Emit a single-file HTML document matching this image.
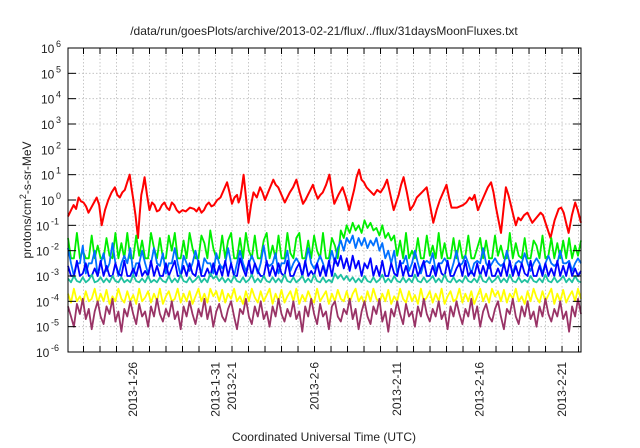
<!DOCTYPE html>
<html><head><meta charset="utf-8"><style>
html,body{margin:0;padding:0;background:#fff}
svg{display:block;font-family:"Liberation Sans",sans-serif}
</style></head><body>
<svg id="chart" width="640" height="448">
<text x="324" y="35" font-size="12" text-anchor="middle" fill="#222">/data/run/goesPlots/archive/2013-02-21/flux/../flux/31daysMoonFluxes.txt</text>
<text transform="translate(31,200) rotate(-90)" font-size="12" text-anchor="middle" fill="#222">protons/cm<tspan dy="-5" font-size="9">2</tspan><tspan dy="5">-s-sr-MeV</tspan></text>
<text x="324" y="441" font-size="12" text-anchor="middle" fill="#222">Coordinated Universal Time (UTC)</text>
<g id="grid"></g><g id="series"></g><g id="axes"></g>
</svg>
<script>
const yDecades=[-6,-5,-4,-3,-2,-1,0,1,2,3,4,5,6];
const xLabelDays=[4,9,10,15,20,25,30];
const xLabelText=["2013-1-26","2013-1-31","2013-2-1","2013-2-6","2013-2-11","2013-2-16","2013-2-21"];
const redDays=[0.06,0.25,0.4,0.55,0.7,0.85,1.0,1.15,1.3,1.55,1.8,1.95,2.1,2.3,2.5,2.7,2.9,3.05,3.2,3.35,3.5,3.65,3.8,3.9,4.0,4.15,4.3,4.4,4.5,4.6,4.7,4.85,5.0,5.15,5.3,5.45,5.6,5.75,5.9,6.05,6.2,6.35,6.5,6.65,6.8,7.0,7.2,7.45,7.7,7.85,8.0,8.15,8.3,8.45,8.6,8.75,8.9,9.1,9.3,9.5,9.7,9.85,10.0,10.15,10.3,10.4,10.5,10.6,10.7,10.85,11.0,11.15,11.3,11.5,11.7,11.85,12.0,12.25,12.5,12.65,12.8,13.0,13.2,13.35,13.5,13.7,13.9,14.1,14.3,14.45,14.6,14.75,14.9,15.05,15.2,15.35,15.5,15.7,15.9,16.05,16.2,16.45,16.7,16.9,17.1,17.25,17.4,17.55,17.7,17.85,18.0,18.15,18.3,18.45,18.6,18.8,19.0,19.2,19.4,19.6,19.8,19.95,20.1,20.25,20.4,20.6,20.8,21.0,21.2,21.5,21.8,22.0,22.2,22.4,22.6,22.8,23.0,23.15,23.3,23.65,24.0,24.2,24.4,24.55,24.7,24.8,24.9,25.1,25.3,25.5,25.7,25.85,26.0,26.15,26.3,26.45,26.6,26.75,26.9,27.05,27.2,27.35,27.5,27.7,27.9,28.05,28.2,28.45,28.7,28.85,29.0,29.15,29.3,29.55,29.8,29.95,30.1,30.25,30.4,30.6,30.8,30.95,31.15];
const redVals=[-0.65,-0.4,-0.2,-0.35,0.1,-0.05,-0.1,-0.25,-0.5,-0.2,0.1,-0.2,-1.0,-0.4,0,0.3,0.5,0.2,0.1,0.3,0.4,0.7,1.0,0.5,0.1,-0.6,-1.5,-0.6,0.2,0.5,0.9,0.2,-0.4,-0.1,-0.2,-0.45,-0.4,-0.2,-0.1,-0.3,-0.4,-0.1,-0.2,-0.4,-0.5,-0.4,-0.45,-0.3,-0.35,-0.45,-0.3,-0.5,-0.4,-0.2,-0.1,-0.25,-0.2,0,0.1,0.4,0.7,0.3,-0.15,0.1,0.2,-0.1,0.1,0.5,1.0,0.1,-0.9,-0.2,0.3,0.1,0.5,0.3,0,0.4,0.8,0.6,0.5,0.2,-0.1,0.1,0.3,0.5,0.8,0.3,-0.15,0,0.2,0.4,0.6,0.3,0.05,0.2,0.3,0.6,1.0,0.4,-0.15,0.2,0.5,0.1,-0.4,0,0.4,0.9,1.2,0.8,0.7,0.5,0.4,0.3,0.2,0.4,0.3,0.5,0.8,0.2,-0.4,-0.1,0.2,0.6,0.9,0.3,-0.4,-0.2,0.1,0.3,0.5,-0.2,-0.9,-0.4,0.0,0.3,0.6,0.1,-0.3,-0.3,-0.2,-0.1,0.1,0.0,0.2,-0.1,-0.4,-0.1,0.2,0.5,0.7,0.3,-0.3,-0.8,-1.3,-0.4,0.5,0.2,-0.2,-0.6,-1.0,-0.7,-0.8,-0.6,-0.5,-0.7,-0.9,-0.7,-0.5,-0.6,-0.9,-1.2,-1.5,-0.8,-0.35,-0.3,-0.5,-0.9,-1.3,-0.6,-0.1,-0.4,-0.9];
const greenVals=[-1.5,-2.3,-2.3,-1.3,-2.3,-2.0,-2.3,-2.3,-1.4,-2.3,-1.8,-2.3,
-2.3,-1.5,-2.2,-2.3,-1.3,-2.3,-1.7,-2.3,-1.3,-2.3,-2.3,-1.4,
-2.2,-1.6,-2.3,-2.3,-1.3,-1.9,-2.3,-1.5,-2.3,-2.3,-1.4,-2.0,
-1.3,-2.3,-2.3,-1.6,-2.3,-1.3,-1.9,-2.3,-2.3,-1.4,-1.7,-2.3,
-1.2,-1.9,-2.3,-2.3,-1.4,-2.3,-1.6,-1.3,-2.3,-2.3,-1.5,-2.3,
-1.3,-2.0,-2.3,-1.4,-2.3,-2.3,-1.6,-1.3,-2.3,-1.8,-2.3,-1.4,
-2.3,-2.3,-1.3,-2.1,-2.3,-1.5,-1.3,-2.3,-2.3,-1.6,-2.3,-1.4,
-2.0,-2.3,-1.3,-2.3,-2.3,-1.5,-1.8,-2.3,-1.2,-1.5,-1.0,-1.3,
-0.9,-1.2,-1.0,-1.3,-0.8,-1.1,-0.9,-1.2,-1.1,-1.4,-1.0,-1.5,
-1.3,-1.6,-1.4,-2.2,-1.6,-2.3,-1.3,-2.3,-2.0,-2.3,-1.5,-2.3,
-2.3,-1.4,-2.2,-1.8,-2.3,-1.3,-2.3,-1.7,-2.3,-2.3,-1.5,-2.3,
-1.6,-2.3,-2.2,-1.4,-2.3,-2.3,-1.9,-1.5,-2.3,-1.6,-2.3,-2.3,
-1.4,-2.2,-1.8,-2.3,-2.3,-1.3,-2.3,-1.7,-2.2,-2.3,-1.5,-2.3,
-2.3,-1.6,-1.8,-2.3,-1.4,-2.3,-2.2,-1.5,-2.3,-1.7,-2.3,-1.6,
-2.3,-1.5,-2.3,-1.8,-2.2,-1.6];
const lblueVals=[-1.9,-2.5,-3.0,-2.5,-2.5,-1.8,-2.9,-2.5,-2.5,-2.0,-3.0,-2.5,
-2.1,-2.8,-2.5,-1.7,-2.5,-3.0,-2.5,-2.2,-2.5,-1.9,-2.9,-2.5,
-2.5,-2.0,-2.5,-2.9,-2.5,-1.9,-2.5,-2.6,-2.1,-2.9,-2.5,-2.5,
-1.9,-2.5,-3.0,-2.2,-2.5,-2.8,-2.5,-2.0,-2.5,-2.9,-2.3,-2.5,
-2.5,-2.9,-2.1,-2.5,-2.7,-2.5,-1.9,-2.5,-3.0,-2.5,-2.0,-2.5,
-2.8,-2.5,-2.2,-2.5,-2.9,-2.5,-1.8,-2.5,-2.6,-2.5,-2.1,-2.9,
-2.5,-2.5,-2.0,-2.8,-2.5,-2.3,-2.5,-3.0,-2.5,-1.9,-2.5,-2.7,
-2.5,-2.2,-2.5,-2.9,-2.5,-2.0,-2.5,-1.9,-1.6,-2.0,-1.5,-1.7,
-1.4,-1.9,-1.5,-1.8,-1.5,-1.9,-1.6,-1.8,-1.5,-2.0,-1.7,-2.3,
-2.0,-2.5,-2.0,-2.9,-2.5,-2.5,-2.2,-2.8,-2.5,-2.0,-2.5,-2.9,
-2.5,-2.4,-2.5,-2.1,-2.8,-2.5,-2.5,-2.3,-2.5,-2.9,-2.5,-2.0,
-2.6,-2.5,-2.2,-2.5,-2.9,-2.5,-2.4,-2.5,-1.9,-2.5,-2.7,-2.5,
-2.3,-2.5,-2.6,-2.5,-2.0,-2.5,-2.9,-2.5,-2.4,-2.5,-2.1,-2.5,
-2.8,-2.5,-2.3,-2.5,-2.9,-2.5,-2.2,-2.5,-2.6,-2.5,-2.0,-2.5,
-2.5,-2.4,-2.8,-2.5,-2.3,-2.5];
const blueVals=[-2.6,-3.0,-3.0,-2.4,-3.0,-2.9,-2.5,-3.0,-3.0,-2.7,-3.0,-2.4,
-3.0,-2.6,-3.0,-3.0,-2.5,-2.9,-3.0,-2.4,-3.0,-3.0,-2.7,-3.0,
-2.5,-3.0,-2.8,-3.0,-2.4,-3.0,-2.6,-3.0,-3.0,-2.5,-3.0,-2.7,
-2.4,-3.0,-3.0,-2.6,-3.0,-2.5,-2.9,-3.0,-2.4,-3.0,-3.0,-2.7,
-3.0,-2.5,-3.0,-2.6,-3.0,-2.4,-3.0,-2.5,-3.0,-3.0,-2.3,-2.7,
-3.0,-2.4,-3.0,-2.5,-2.8,-3.0,-3.0,-2.4,-3.0,-2.6,-3.0,-2.5,
-2.9,-3.0,-2.4,-3.0,-3.0,-2.7,-2.5,-3.0,-2.4,-3.0,-2.8,-3.0,
-2.5,-3.0,-2.6,-3.0,-2.4,-3.0,-2.3,-2.6,-2.2,-2.7,-2.3,-2.8,
-2.2,-2.7,-2.4,-3.0,-2.5,-2.7,-2.3,-3.0,-2.6,-3.0,-2.4,-3.0,
-3.0,-2.5,-2.9,-3.0,-2.4,-3.0,-2.6,-3.0,-3.0,-2.5,-3.0,-2.7,
-2.4,-3.0,-3.0,-2.6,-3.0,-2.5,-2.9,-3.0,-2.4,-3.0,-3.0,-2.7,
-2.5,-3.0,-2.4,-3.0,-2.8,-3.0,-2.5,-3.0,-2.6,-3.0,-2.4,-3.0,
-3.0,-2.7,-3.0,-2.5,-3.0,-2.4,-3.0,-2.6,-3.0,-2.5,-2.9,-3.0,
-2.4,-3.0,-3.0,-2.6,-3.0,-2.5,-3.0,-2.7,-3.0,-2.4,-3.0,-2.6,
-3.0,-2.5,-3.0,-2.7,-3.0,-2.8];
const tealVals=[-3.1,-3.25,-3.0,-3.2,-3.25,-3.05,-3.25,-3.15,-2.95,-3.25,-3.2,-3.05,
-3.25,-3.1,-3.25,-3.0,-3.2,-3.25,-3.05,-3.25,-3.15,-3.25,-2.95,-3.2,
-3.25,-3.1,-3.25,-3.0,-3.25,-3.15,-3.25,-3.05,-3.2,-3.25,-3.0,-3.25,
-3.1,-3.25,-2.95,-3.2,-3.25,-3.05,-3.25,-3.15,-3.0,-3.25,-3.1,-3.25,
-2.9,-3.1,-3.0,-3.2,-3.05,-3.25,-3.1,-3.25,-3.0,-3.2,-3.25,-3.05,
-3.25,-3.15,-2.95,-3.25,-3.1,-3.25,-3.0,-3.2,-3.25,-3.05,-3.25,-3.1,
-3.25,-2.95,-3.2,-3.25,-3.05,-3.25,-3.15,-3.0,-3.25,-3.1,-3.25,-2.95,
-3.2,-3.25,-3.05,-3.25,-3.15,-3.25,-2.9,-3.1,-2.95,-3.15,-3.0,-3.2,
-3.05,-3.25,-3.1,-3.25,-3.0,-3.2,-3.25,-3.05,-3.25,-3.15,-2.95,-3.25,
-3.1,-3.25,-3.0,-3.2,-3.25,-3.05,-3.25,-3.1,-3.25,-2.95,-3.2,-3.25,
-3.05,-3.25,-3.15,-3.0,-3.25,-3.1,-3.25,-2.95,-3.2,-3.25,-3.05,-3.25,
-3.15,-3.25,-3.0,-3.2,-3.25,-3.1,-3.25,-2.95,-3.2,-3.25,-3.05,-3.25,
-3.15,-3.0,-3.25,-3.1,-3.25,-2.95,-3.2,-3.25,-3.05,-3.25,-3.15,-3.25,
-3.0,-3.2,-3.25,-3.1,-3.25,-2.95,-3.2,-3.25,-3.05,-3.25,-3.15,-3.0,
-3.25,-3.1,-3.25,-3.0,-3.2,-3.25];
const yellowVals=[-3.7,-4.05,-3.5,-4.0,-3.8,-4.1,-3.6,-4.0,-3.9,-3.5,-4.05,-3.7,
-4.0,-3.55,-4.1,-3.8,-4.0,-3.5,-3.9,-4.05,-3.6,-4.0,-3.75,-4.1,
-3.5,-4.0,-3.85,-3.6,-4.05,-3.7,-4.0,-3.5,-4.1,-3.8,-3.6,-4.0,
-3.9,-3.5,-4.05,-3.7,-4.0,-3.6,-4.1,-3.8,-3.5,-4.0,-3.7,-4.05,
-3.5,-3.8,-3.6,-4.0,-3.55,-4.05,-3.7,-3.9,-3.5,-4.0,-3.8,-4.1,
-3.6,-4.0,-3.5,-3.85,-4.05,-3.6,-4.0,-3.75,-3.5,-4.1,-3.7,-4.0,
-3.55,-4.05,-3.8,-3.6,-4.0,-3.5,-4.1,-3.75,-4.0,-3.6,-3.9,-4.05,
-3.5,-4.0,-3.8,-3.6,-4.1,-3.7,-4.0,-3.55,-3.9,-4.0,-3.6,-4.05,
-3.7,-3.5,-4.0,-3.8,-4.1,-3.6,-4.0,-3.5,-3.9,-4.05,-3.7,-4.0,
-3.55,-4.1,-3.8,-4.0,-3.5,-3.9,-4.05,-3.6,-4.0,-3.75,-4.1,-3.5,
-4.0,-3.85,-3.6,-4.05,-3.7,-4.0,-3.5,-4.1,-3.8,-3.6,-4.0,-3.9,
-3.5,-4.05,-3.7,-4.0,-3.6,-4.1,-3.8,-3.5,-4.0,-3.7,-4.05,-3.5,
-3.8,-3.6,-4.0,-3.55,-4.05,-3.7,-3.9,-3.5,-4.0,-3.8,-4.1,-3.6,
-4.0,-3.5,-3.85,-4.05,-3.6,-4.0,-3.75,-3.5,-4.1,-3.7,-4.0,-3.55,
-4.05,-3.8,-3.6,-4.0,-3.5,-3.9];
const purpleVals=[-4.2,-4.6,-5.0,-4.1,-4.5,-3.9,-4.7,-4.3,-5.1,-4.4,-4.0,-4.6,
-4.9,-4.2,-4.5,-3.9,-4.8,-4.4,-5.2,-4.3,-4.6,-4.0,-4.5,-4.9,
-4.1,-4.6,-4.4,-5.0,-4.2,-4.6,-3.9,-4.5,-4.8,-4.3,-4.6,-4.0,
-4.7,-4.4,-5.1,-4.2,-4.6,-4.0,-4.5,-4.9,-4.3,-4.6,-3.9,-4.7,
-4.2,-5.0,-4.4,-4.1,-4.6,-4.8,-4.3,-4.0,-4.6,-5.1,-4.3,-4.5,
-3.9,-4.6,-4.9,-4.2,-4.6,-4.0,-4.7,-4.4,-5.0,-4.2,-4.6,-3.9,
-4.5,-4.8,-4.3,-4.6,-4.0,-4.7,-4.4,-5.2,-4.2,-4.6,-3.9,-4.5,
-4.9,-4.1,-4.6,-4.4,-5.1,-4.2,-4.0,-4.6,-4.8,-4.3,-4.5,-3.9,
-4.7,-4.3,-5.1,-4.4,-4.0,-4.6,-4.9,-4.2,-4.5,-3.9,-4.8,-4.4,
-5.2,-4.3,-4.6,-4.0,-4.5,-4.9,-4.1,-4.6,-4.4,-5.0,-4.2,-4.6,
-3.9,-4.5,-4.8,-4.3,-4.6,-4.0,-4.7,-4.4,-5.1,-4.2,-4.6,-4.0,
-4.5,-4.9,-4.3,-4.6,-3.9,-4.7,-4.2,-5.0,-4.4,-4.1,-4.6,-4.8,
-4.3,-4.0,-4.6,-5.1,-4.3,-4.5,-3.9,-4.6,-4.9,-4.2,-4.6,-4.0,
-4.7,-4.4,-5.0,-4.2,-4.6,-3.9,-4.5,-4.8,-4.3,-4.6,-4.0,-4.7,
-4.4,-5.2,-4.2,-4.6,-3.9,-4.5];

const L=68,R=581,T=48,B=352,NS="http://www.w3.org/2000/svg";
const d0=0.06,d1=31.15;
function xS(d){return L+(d-d0)/(d1-d0)*(R-L);}
function yS(v){return B-(v+6)/12*(B-T);}
function mk(tag,attrs,parent){const e=document.createElementNS(NS,tag);for(const k in attrs)e.setAttribute(k,attrs[k]);parent.appendChild(e);return e;}
const grid=document.getElementById('grid'),axes=document.getElementById('axes'),ser=document.getElementById('series');
for(let d=1;d<=31;d++){const x=xS(d);if(x<=L||x>=R)continue;
 const g=mk('line',{x1:x,x2:x,y1:T,y2:B,stroke:'#bbb','stroke-width':0.8,'stroke-dasharray':'1.5,2'},grid);
 
 
 const t1=mk('line',{x1:x,x2:x,y1:B,y2:B-6,stroke:'#000','stroke-width':1},axes);
 
 
 const t2=mk('line',{x1:x,x2:x,y1:T,y2:T+6,stroke:'#000','stroke-width':1},axes);
 
 
}
yDecades.forEach(k=>{const y=yS(k);
 if(k>-6&&k<6){const g=mk('line',{x1:L,x2:R,y1:y,y2:y,stroke:'#bbb','stroke-width':0.8,'stroke-dasharray':'1.5,2'},grid);
 
 }
 const t1=mk('line',{x1:L,x2:L+8,y1:y,y2:y,stroke:'#000'},axes);
 
 
 const t2=mk('line',{x1:R,x2:R-8,y1:y,y2:y,stroke:'#000'},axes);
 
 
 const s=String(k);
 const tx=mk('text',{x:60-14-s.length*5,y:y+5,'font-size':12,fill:'#222'},axes);
 
 
 tx.textContent='10';
 const sp=mk('tspan',{x:61-s.length*5,y:y-1,'font-size':9},tx);sp.textContent=s;
});
xLabelDays.forEach((d,i)=>{const x=xS(d);
 const t=mk('text',{transform:`translate(${x+4},${B+10}) rotate(-90)`,'font-size':12,'text-anchor':'end',fill:'#222'},axes);
 
 
 t.textContent=xLabelText[i];
});
const fr=mk('rect',{x:L,y:T,width:R-L,height:B-T,fill:'none',stroke:'#000','stroke-width':1},axes);


function drawLine(days,vals,color,name,w){
 const pts=vals.map((v,i)=>xS(days[i]).toFixed(1)+','+yS(v).toFixed(1)).join(' ');
 const p=mk('polyline',{points:pts,fill:'none',stroke:color,'stroke-width':w,'stroke-linejoin':'round'},ser);
 
 
}
function uniDays(n){const a=[];for(let i=0;i<n;i++)a.push(d0+i*(d1-d0)/(n-1));return a;}
drawLine(redDays,redVals,'#ff0000','series-red',2);
drawLine(uniDays(greenVals.length),greenVals,'#00ee00','series-green',1.8);
drawLine(uniDays(lblueVals.length),lblueVals,'#0070ff','series-light-blue',1.8);
drawLine(uniDays(blueVals.length),blueVals,'#0000ff','series-blue',1.8);
drawLine(uniDays(tealVals.length),tealVals,'#20c0a0','series-teal',1.8);
drawLine(uniDays(yellowVals.length),yellowVals,'#ffff00','series-yellow',1.8);
drawLine(uniDays(purpleVals.length),purpleVals,'#993366','series-purple',1.8);
</script>
</body></html>
